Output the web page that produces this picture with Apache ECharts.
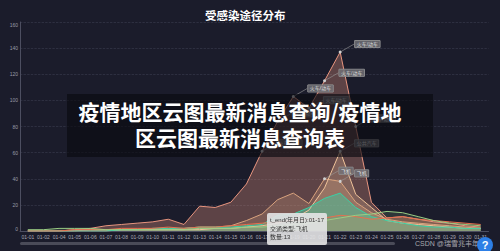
<!DOCTYPE html>
<html>
<head>
<meta charset="utf-8">
<script src="https://cdn.jsdelivr.net/npm/echarts@6/dist/echarts.min.js"></script>
<style>
  html, body { margin: 0; padding: 0; width: 500px; height: 251px; overflow: hidden; background: #1b1c2b; }
  #chart { position: absolute; left: 0; top: 0; width: 490px; height: 251px; }
  .cap {
    position: absolute; left: 67px; top: 94px; width: 346px; height: 59px; padding: 4px 20px 0 0;
    background: rgba(10, 10, 16, 0.64); color: #fff; text-align: center; white-space: nowrap;
    font: bold 21px/26px "Noto Sans CJK SC", sans-serif;
  }
  .mark { position: absolute; left: 415px; top: 240px; font: 7px/8px "Liberation Sans", "Noto Sans CJK SC"; color: rgba(205, 205, 210, 0.8); white-space: nowrap; }
  .help {
    position: absolute; left: 477px; top: 237px; width: 16px; height: 16px; border-radius: 50%;
    background: #2d7fe6; color: #fff; font: bold 11px/16px "Liberation Sans"; text-align: center;
  }
  .bar { position: absolute; left: 20px; top: 241.5px; width: 375px; height: 3px; border-radius: 2px; background: #4a4b58; }
</style>
</head>
<body>
<div id="chart"></div>
<div class="bar"></div>
<div class="cap">疫情地区云图最新消息查询/疫情地<br>区云图最新消息查询表</div>
<div class="mark">CSDN @瑞雪兆丰年</div>
<div class="help">?</div>
<script>
// 日期 (01-03 无数据)
const dates = ['01-01','01-02','01-04','01-05','01-06','01-07','01-08','01-09','01-10','01-11',
  '01-12','01-13','01-14','01-15','01-16','01-17','01-18','01-19','01-20','01-21',
  '01-22','01-23','01-24','01-25','01-26','01-27','01-28','01-29','01-30','01-31']

const train = [0,0,0,1,2,4,5,6,7,9,5,19,18,22,36,61,84,103,94,115,137,80,22,10,11,9,7,6,4,3]
const plane = [0,0,0,0,1,1,1,1,2,2,2,3,3,4,8,13,24,29,21,40,38,22,14,9,7,6,5,4,3,2]
const bus   = [0,0,0,0,0,0,1,1,1,1,1,1,2,2,3,4,6,9,16,33,61,28,18,8,6,5,4,3,2,2]
const car   = [0,0,0,0,0,0,1,1,2,2,2,3,3,3,4,5,12,13,18,25,29,18,11,8,6,4,3,3,2,2]
const ship  = [0,0,0,1,1,1,2,2,2,3,2,3,3,4,5,6,7,8,9,10,12,11,9,10,11,9,8,7,6,5]
const other = [1,1,2,2,2,1,1,1,1,1,1,2,2,2,3,3,4,5,6,8,10,12,13,15,14,11,8,6,5,4]

const names  = ['火车/动车', '飞机', '公共汽车', '自驾', '轮船', '其他']
const values = [train, plane, bus, car, ship, other]
const lineColors = ['#e8957f', '#d9a37e', '#f0c39a', '#3ad0a5', '#e6704f', '#9acd84']
const areaColors = ['rgba(226,146,126,0.48)', 'rgba(217,163,126,0.35)', 'rgba(240,195,154,0.35)',
  'rgba(58,208,165,0.62)', 'rgba(230,112,79,0.28)', 'rgba(154,205,132,0.22)']
const LABEL_MIN = 37

const chart = echarts.init(document.getElementById('chart'), null, { renderer: 'svg' })

const series = names.map((name, i) => ({
  name,
  type: 'line',
  showSymbol: true,
  showAllSymbol: true,
  symbol: 'circle',
  symbolSize: 0,
  lineStyle: { width: 1, color: lineColors[i] },
  itemStyle: { color: lineColors[i] },
  areaStyle: { color: areaColors[i] },
  label: {
    show: false, formatter: '{a}', position: 'right', fontSize: 5, color: '#ddd',
    backgroundColor: 'rgba(115,115,120,0.8)', borderColor: '#999', borderWidth: 0.5, padding: [1, 2]
  },
  labelLayout: { dx: 8, dy: -8, hideOverlap: true },
  labelLine: { show: true, lineStyle: { color: '#999', width: 0.6 } },
  data: values[i].map(v => v >= LABEL_MIN
    ? { value: v, symbolSize: 3, itemStyle: { color: '#cfcfcf' }, label: { show: true } }
    : v)
}))

chart.setOption({
  backgroundColor: '#1b1c2b',
  animation: false,
  textStyle: { fontFamily: '"Liberation Sans", "Noto Sans CJK SC"' },
  title: {
    text: '受感染途径分布', left: 200, top: 4,
    textStyle: { color: '#fff', fontSize: 11.5, fontWeight: 'bold', fontFamily: '"Noto Sans CJK SC"' }
  },
  tooltip: {
    trigger: 'item',
    alwaysShowContent: true,
    transitionDuration: 0,
    showDelay: 0,
    position: [267, 213],
    backgroundColor: 'rgba(228,228,230,0.9)',
    borderWidth: 0,
    padding: [3, 3],
    textStyle: { color: '#333', fontSize: 6, lineHeight: 8.5, fontFamily: '"Liberation Sans", "Noto Sans CJK SC"' },
    extraCssText: 'box-shadow:none;border-radius:2px;',
    formatter: p => 't_end(年月日):' + p.name + '<br/>交通类型:' + p.seriesName + '<br/>数量:' + p.value
  },
  grid: { left: 20, top: 22, width: 475, height: 209 },
  xAxis: {
    type: 'category',
    data: dates,
    boundaryGap: true,
    axisLine: { lineStyle: { color: '#4c4e60' } },
    axisTick: { show: false },
    axisLabel: { interval: 0, fontSize: 5, color: '#aaaab4', margin: 3 }
  },
  yAxis: {
    type: 'value', min: 0, max: 160, interval: 20,
    axisLine: { show: true, lineStyle: { color: '#4c4e60' } },
    axisTick: { show: false },
    axisLabel: { fontSize: 5, color: '#9a9aa6', margin: 2, verticalAlignMaxLabel: 'top', verticalAlignMinLabel: 'bottom' },
    splitLine: { lineStyle: { type: 'dashed', color: '#3a3c4f', width: 0.6 } }
  },
  series
})

chart.dispatchAction({ type: 'showTip', seriesIndex: 1, dataIndex: 15 })
</script>
</body>
</html>
